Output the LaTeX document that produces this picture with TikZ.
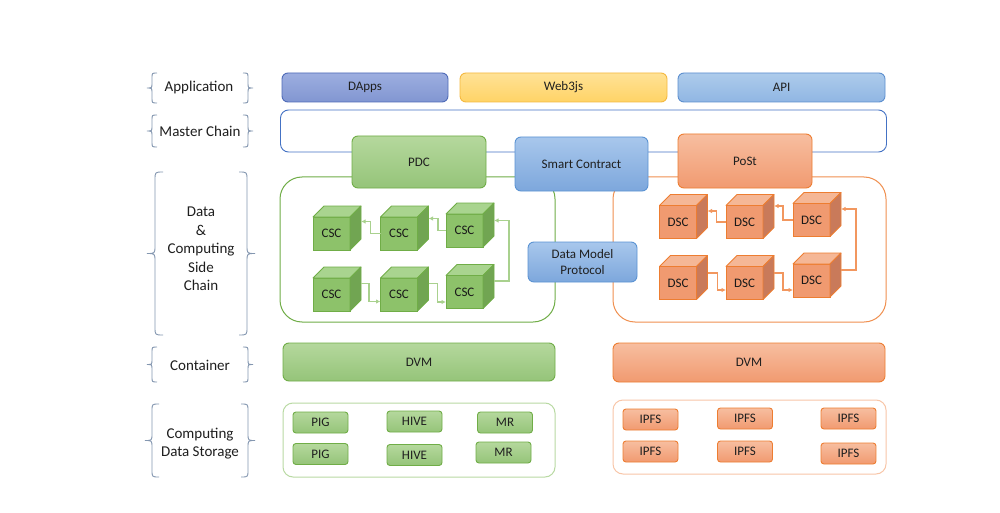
\documentclass[tikz,border=0pt]{standalone}
\usepackage{fontspec}
\setmainfont{Carlito}
\usetikzlibrary{arrows.meta}
\definecolor{gborder}{HTML}{70AD47}
\definecolor{gtop}{HTML}{B5D89D}
\definecolor{gbot}{HTML}{95C479}
\definecolor{glight}{HTML}{B9DAA3}
\definecolor{bborder}{HTML}{5B93D3}
\definecolor{btop}{HTML}{A8C7EC}
\definecolor{bbot}{HTML}{7DA7DC}
\definecolor{oborder}{HTML}{ED7D31}
\definecolor{otop}{HTML}{F7BEA0}
\definecolor{obot}{HTML}{F19A70}
\definecolor{olight}{HTML}{F8C6A8}
\definecolor{dborder}{HTML}{4F6BB8}
\definecolor{dtop}{HTML}{9DAEE0}
\definecolor{dbot}{HTML}{8196D1}
\definecolor{yborder}{HTML}{F4B940}
\definecolor{ytop}{HTML}{FFE296}
\definecolor{ybot}{HTML}{FFD366}
\definecolor{aborder}{HTML}{5C8FCF}
\definecolor{atop}{HTML}{ADCBEB}
\definecolor{abot}{HTML}{90B6E3}
\definecolor{mborder}{HTML}{4472C4}
\definecolor{brc}{HTML}{8497B0}
\definecolor{gfront}{HTML}{8DC26A}
\definecolor{gtopf}{HTML}{A9D48F}
\definecolor{gside}{HTML}{71A552}
\definecolor{ofront}{HTML}{F09A70}
\definecolor{otopf}{HTML}{F5B796}
\definecolor{oside}{HTML}{C97A5A}
\definecolor{garr}{HTML}{A9D18E}
\definecolor{oarr}{HTML}{F2975F}
\tikzset{
  lbl/.style={font=\fontsize{15}{18.5}\selectfont, align=center, text=black!88},
  rbox/.style={rounded corners=6pt, line width=0.9pt, font=\fontsize{13}{16}\selectfont,
    text=black!88, inner sep=0pt, outer sep=0pt, align=center},
  greenbox/.style={rbox, draw=gborder, top color=gtop, bottom color=gbot},
  bluebox/.style={rbox, draw=bborder, top color=btop, bottom color=bbot},
  orangebox/.style={rbox, draw=oborder, top color=otop, bottom color=obot},
  gcube/.style={draw=gborder, fill=gfront, line width=0.8pt, minimum width=37pt, minimum height=33pt,
    inner sep=0pt, outer sep=0pt, font=\fontsize{13}{16}\selectfont, text=black!90},
  ocube/.style={draw=oborder, fill=ofront, line width=0.8pt, minimum width=37pt, minimum height=33pt,
    inner sep=0pt, outer sep=0pt, font=\fontsize{13}{16}\selectfont, text=black!90},
  gtopface/.style={draw=gborder, fill=gtopf, line width=0.8pt, line join=round},
  gsideface/.style={draw=gborder, fill=gside, line width=0.8pt, line join=round},
  otopface/.style={draw=oborder, fill=otopf, line width=0.8pt, line join=round},
  osideface/.style={draw=oborder, fill=oside, line width=0.8pt, line join=round},
  garrow/.style={draw=garr, line width=1.1pt, -{Latex[length=4.5pt,width=4.5pt]}},
  oarrow/.style={draw=oarr, line width=1.1pt, -{Latex[length=4.5pt,width=4.5pt]}},
  bracepath/.style={draw=brc, line width=0.9pt},
}
\newcommand\mkcube[5]{%
  \node[#5cube] (#1) at (#2,#3) {#4};
  \filldraw[#5topface] (#1.north west) -- ++(11,-11) -- ++(37,0) -- (#1.north east) -- cycle;
  \filldraw[#5sideface] (#1.north east) -- ++(11,-11) -- ++(0,33) -- (#1.south east) -- cycle;
}
% left brace: body x, top y, bottom y, curl
\newcommand\bracepathL[4]{%
  \draw[bracepath] ({#1+#4},#2) .. controls (#1,#2) .. (#1,{#2+#4})
    -- (#1,{(#2+#3)/2-#4}) .. controls (#1,{(#2+#3)/2}) .. ({#1-#4},{(#2+#3)/2})
    .. controls (#1,{(#2+#3)/2}) .. (#1,{(#2+#3)/2+#4})
    -- (#1,{#3-#4}) .. controls (#1,#3) .. ({#1+#4},#3);
}
\newcommand\bracepathR[4]{%
  \draw[bracepath] ({#1-#4},#2) .. controls (#1,#2) .. (#1,{#2+#4})
    -- (#1,{(#2+#3)/2-#4}) .. controls (#1,{(#2+#3)/2}) .. ({#1+#4},{(#2+#3)/2})
    .. controls (#1,{(#2+#3)/2}) .. (#1,{(#2+#3)/2+#4})
    -- (#1,{#3-#4}) .. controls (#1,#3) .. ({#1-#4},#3);
}
\begin{document}
\begin{tikzpicture}[x=1pt,y=-1pt]
\fill[white] (0,0) rectangle (1000,513);
\useasboundingbox (0,0) rectangle (1000,513);

% left labels and braces
\node[lbl] (lapp) at (199,88) {Application};
\bracepathL{152}{73}{103}{5}
\bracepathR{248}{73}{103}{5}
\node[lbl] (lmaster) at (200,131) {Master Chain};
\bracepathL{152}{115}{147}{5}
\bracepathR{248}{115}{147}{5}
\node[lbl] (ldata) at (201,249) {Data\\\&\\Computing\\Side\\Chain};
\bracepathL{155}{172}{335}{8}
\bracepathR{247}{172}{335}{8}
\node[lbl] (lcont) at (200,365) {Container};
\bracepathL{152}{347}{382}{5}
\bracepathR{248}{347}{382}{5}
\node[lbl] (lstore) at (200,443.5) {Computing\\Data Storage};
\bracepathL{152}{404}{477}{7}
\bracepathR{248}{404}{477}{7}

% application row
\node[rbox, draw=dborder, top color=dtop, bottom color=dbot, minimum width=166pt, minimum height=29pt] (dapps) at (365,87.5) {DApps};
\node[rbox, draw=yborder, top color=ytop, bottom color=ybot, minimum width=207pt, minimum height=29pt] (web3) at (563.5,87.5) {Web3js};
\node[rbox, draw=aborder, top color=atop, bottom color=abot, minimum width=207pt, minimum height=29pt] (api) at (781.5,87.5) {API};

% master chain
\node[rbox, draw=mborder, fill=white, rounded corners=8pt, minimum width=606pt, minimum height=42pt] (master) at (583.5,131) {};

% side chain containers
\node[draw=gborder, line width=1pt, rounded corners=22pt, minimum width=275pt, minimum height=145pt, inner sep=0pt, outer sep=0pt] (gcont) at (417.5,249.5) {};
\node[draw=oborder!85, line width=1pt, rounded corners=22pt, minimum width=273pt, minimum height=145pt, inner sep=0pt, outer sep=0pt] (ocont) at (749.5,249.5) {};

% chain boxes
\node[greenbox, minimum width=134pt, minimum height=52pt] (pdc) at (419,162) {PDC};
\node[bluebox, minimum width=133pt, minimum height=54pt] (sc) at (581.5,164) {Smart Contract};
\node[orangebox, minimum width=134pt, minimum height=54pt] (post) at (745,161) {PoSt};
\node[bluebox, minimum width=109pt, minimum height=40pt, font=\fontsize{13}{16}\selectfont] (dmp) at (582.5,262) {Data Model\\Protocol};

% CSC cubes
\mkcube{c1}{331.5}{233.5}{CSC}{g}
\mkcube{c2}{399}{233.5}{CSC}{g}
\mkcube{c3}{464.5}{230.5}{CSC}{g}
\mkcube{c4}{331.5}{294.5}{CSC}{g}
\mkcube{c5}{399}{294.5}{CSC}{g}
\mkcube{c6}{464.5}{292}{CSC}{g}
\draw[garrow] (c2.west) -- ++(-10,0) |- ([xshift=11pt,yshift=12pt]c1.east);
\draw[garrow] (c3.west) -- ++(-8,0) |- ([xshift=11pt,yshift=15pt]c2.east);
\draw[garrow] ([xshift=11pt,yshift=11pt]c6.east) -- ++(15,0) |- ([xshift=11pt,yshift=10pt]c3.east);
\draw[garrow] ([xshift=11pt,yshift=11pt]c4.east) -- ++(8,0) |- ([yshift=-7pt]c5.west);
\draw[garrow] ([xshift=11pt,yshift=11pt]c5.east) -- ++(9,0) |- ([yshift=-10pt]c6.west);

% DSC cubes
\mkcube{d1}{678}{222}{DSC}{o}
\mkcube{d2}{744.5}{222}{DSC}{o}
\mkcube{d3}{811.5}{220}{DSC}{o}
\mkcube{d4}{678}{283}{DSC}{o}
\mkcube{d5}{744.5}{283}{DSC}{o}
\mkcube{d6}{811.5}{280.5}{DSC}{o}
\draw[oarrow] (d2.west) -- ++(-9.5,0) |- ([xshift=11pt,yshift=11pt]d1.east);
\draw[oarrow] (d3.west) -- ++(-10,0) |- ([xshift=11pt,yshift=16pt]d2.east);
\draw[oarrow] ([xshift=11pt,yshift=10.5pt]d6.east) -- ++(15,0) |- ([xshift=11pt,yshift=11pt]d3.east);
\draw[oarrow] ([xshift=11pt,yshift=10pt]d4.east) -- ++(10,0) |- ([yshift=-7pt]d5.west);
\draw[oarrow] ([xshift=11pt,yshift=10pt]d5.east) -- ++(9,0) |- ([yshift=-9.5pt]d6.west);

% container row
\node[greenbox, minimum width=272pt, minimum height=38pt] (gdvm) at (419,362) {DVM};
\node[orangebox, minimum width=272pt, minimum height=39pt] (odvm) at (749,362.5) {DVM};

% storage
\node[draw=glight, fill=white, line width=1pt, rounded corners=10pt, minimum width=272pt, minimum height=74pt, inner sep=0pt] (gstore) at (419,440) {};
\node[draw=olight, fill=white, line width=1pt, rounded corners=10pt, minimum width=273pt, minimum height=74pt, inner sep=0pt] (ostore) at (749.5,437) {};
\tikzset{sbox/.style={rbox, rounded corners=3pt, minimum width=55pt, minimum height=21pt}}
\node[sbox, draw=gborder, top color=gtop, bottom color=gbot] (pig1) at (320.5,422.5) {PIG};
\node[sbox, draw=gborder, top color=gtop, bottom color=gbot] (pig2) at (320.5,454) {PIG};
\node[sbox, draw=gborder, top color=gtop, bottom color=gbot] (hive1) at (414.5,421.5) {HIVE};
\node[sbox, draw=gborder, top color=gtop, bottom color=gbot] (hive2) at (414.5,455) {HIVE};
\node[sbox, draw=gborder, top color=gtop, bottom color=gbot] (mr1) at (505,422.5) {MR};
\node[sbox, draw=gborder, top color=gtop, bottom color=gbot] (mr2) at (503.5,452.5) {MR};
\node[sbox, draw=oborder, top color=otop, bottom color=obot] (ip1) at (650.5,419.5) {IPFS};
\node[sbox, draw=oborder, top color=otop, bottom color=obot] (ip2) at (650.5,451.5) {IPFS};
\node[sbox, draw=oborder, top color=otop, bottom color=obot] (ip3) at (745,418.5) {IPFS};
\node[sbox, draw=oborder, top color=otop, bottom color=obot] (ip4) at (745,451.5) {IPFS};
\node[sbox, draw=oborder, top color=otop, bottom color=obot] (ip5) at (848.5,418.5) {IPFS};
\node[sbox, draw=oborder, top color=otop, bottom color=obot] (ip6) at (848.5,453.5) {IPFS};
\end{tikzpicture}
\end{document}
